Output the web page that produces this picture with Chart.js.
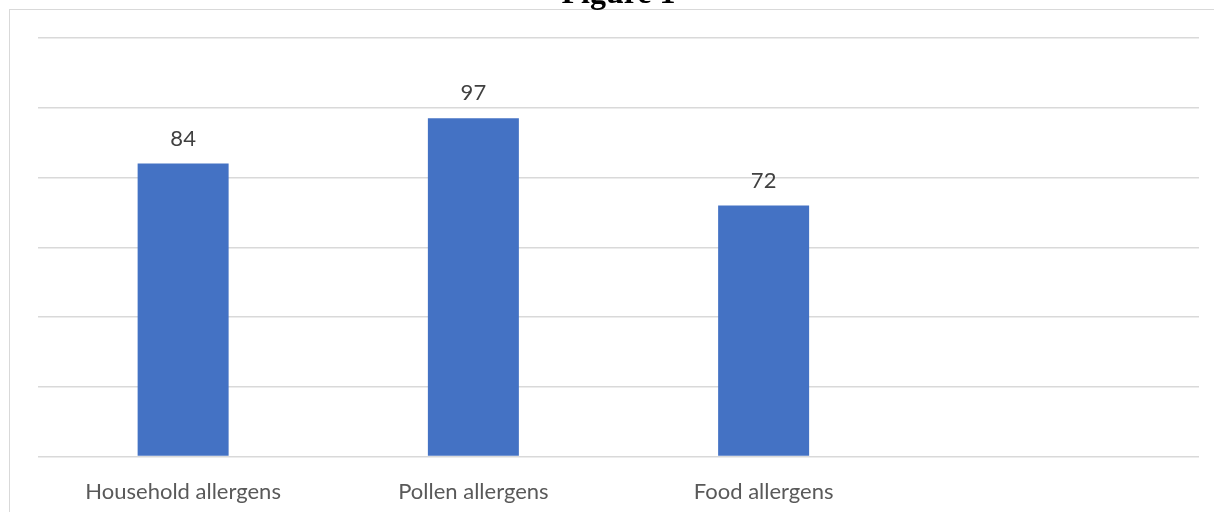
<!DOCTYPE html>
<html>
<head>
<meta charset="utf-8">
<script src="https://cdn.jsdelivr.net/npm/chart.js@4"></script>
<style>
  body { margin: 0; background: #fff; width: 1214px; height: 512px; overflow: hidden; position: relative; }
  #frame { position: absolute; left: 9px; top: 9px; width: 1300px; height: 600px;
           border-left: 1px solid #d9d9d9; border-top: 1px solid #d9d9d9; }
  #wrap { position: absolute; left: 0; top: -24px; width: 1214px; height: 554px; }
</style>
</head>
<body>
<div id="frame"></div>
<div id="wrap"><canvas id="chart"></canvas></div>
<script>
// values
const categories = ['Household allergens', 'Pollen allergens', 'Food allergens', ''];
const counts = [84, 97, 72, null];
const yMin = 0, yMax = 120, yStep = 20;

// writes the value above each bar
const barValues = {
  id: 'barValues',
  afterDatasetsDraw(chart) {
    const ctx = chart.ctx;
    ctx.save();
    ctx.font = '22px Lato';
    ctx.fillStyle = '#404040';
    ctx.textAlign = 'center';
    ctx.textBaseline = 'middle';
    chart.getDatasetMeta(0).data.forEach((bar, i) => {
      if (counts[i] == null) return;
      ctx.fillText(counts[i], bar.x, bar.y - 25);
    });
    ctx.restore();
  }
};

new Chart(document.getElementById('chart'), {
  type: 'bar',
  data: {
    labels: categories,
    datasets: [{
      data: counts,
      backgroundColor: '#4472c4',
      categoryPercentage: 1,
      barPercentage: 0.3135
    }]
  },
  options: {
    responsive: true,
    maintainAspectRatio: false,
    animation: false,
    layout: { padding: { left: 38, right: 15, top: 0, bottom: 11 } },
    plugins: {
      legend: { display: false },
      tooltip: { enabled: false },
      title: {
        display: true,
        text: 'Figure 1',
        color: '#000',
        font: { family: 'Liberation Serif', size: 32, weight: 'bold' },
        padding: { top: 0, bottom: 23.6 }
      }
    },
    scales: {
      x: {
        grid: { display: false },
        border: { display: false },
        ticks: { color: '#595959', font: { family: 'Lato', size: 22 }, padding: 14 }
      },
      y: {
        min: yMin, max: yMax,
        ticks: { display: false, stepSize: yStep },
        border: { display: false },
        grid: { color: '#d9d9d9', lineWidth: 1.5, drawTicks: false }
      }
    }
  },
  plugins: [barValues]
});
</script>
</body>
</html>
